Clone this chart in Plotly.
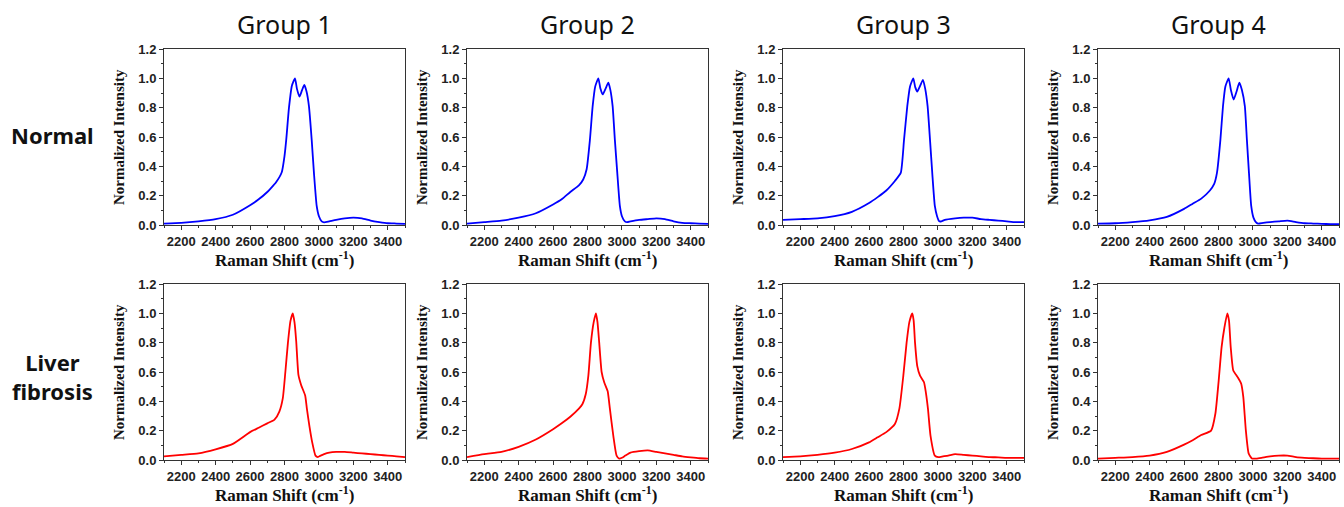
import plotly.graph_objects as go

W, H = 1344, 507

group_titles = ["Group 1", "Group 2", "Group 3", "Group 4"]
row_titles = ["Normal", "Liver<br>fibrosis"]
x_tick_vals = [2200, 2400, 2600, 2800, 3000, 3200, 3400]
y_tick_vals = [0.0, 0.2, 0.4, 0.6, 0.8, 1.0, 1.2]

# ---- Normal (blue) spectra ----
normal_g1_x = [2100, 2200, 2300, 2400, 2500, 2600, 2650, 2700, 2720, 2750, 2784, 2800, 2810, 2826, 2843, 2861,
               2872, 2887, 2902, 2915, 2928, 2942, 2958, 2971, 2987, 3000, 3016, 3030, 3060, 3100, 3150, 3200,
               3250, 3300, 3350, 3400, 3450, 3500]
normal_g1_y = [0.01, 0.015, 0.025, 0.04, 0.07, 0.135, 0.175, 0.225, 0.25, 0.29, 0.36, 0.47, 0.58, 0.80, 0.95, 1.0,
               0.93, 0.875, 0.92, 0.955, 0.91, 0.81, 0.58, 0.355, 0.13, 0.06, 0.025, 0.018, 0.025, 0.035, 0.045, 0.05,
               0.045, 0.03, 0.02, 0.012, 0.01, 0.008]

normal_g2_x = [2100, 2200, 2300, 2400, 2500, 2600, 2650, 2700, 2750, 2775, 2795, 2814, 2830, 2845, 2863,
               2875, 2888, 2905, 2921, 2933, 2946, 2959, 2973, 2988, 3000, 3017, 3030, 3050, 3100, 3150, 3200,
               3250, 3300, 3350, 3400, 3450, 3500]
normal_g2_y = [0.01, 0.02, 0.03, 0.05, 0.08, 0.14, 0.175, 0.225, 0.27, 0.31, 0.38, 0.58, 0.81, 0.945, 1.0,
               0.93, 0.89, 0.93, 0.97, 0.92, 0.81, 0.58, 0.355, 0.13, 0.06, 0.025, 0.02, 0.025, 0.035, 0.04, 0.045,
               0.04, 0.025, 0.015, 0.012, 0.01, 0.008]

normal_g3_x = [2100, 2200, 2300, 2400, 2500, 2600, 2650, 2700, 2750, 2784, 2803, 2822, 2838, 2857,
               2868, 2880, 2897, 2913, 2926, 2940, 2954, 2967, 2982, 2995, 3008, 3020, 3040, 3100, 3150, 3200,
               3250, 3300, 3350, 3400, 3450, 3500]
normal_g3_y = [0.035, 0.04, 0.045, 0.06, 0.09, 0.15, 0.19, 0.235, 0.3, 0.355, 0.58, 0.81, 0.945, 1.0,
               0.94, 0.91, 0.95, 0.99, 0.93, 0.81, 0.58, 0.355, 0.13, 0.06, 0.025, 0.025, 0.035, 0.045, 0.05, 0.05,
               0.04, 0.035, 0.03, 0.025, 0.02, 0.02]

normal_g4_x = [2100, 2200, 2300, 2400, 2500, 2600, 2650, 2700, 2750, 2775, 2791, 2811, 2826, 2840, 2859,
               2872, 2888, 2905, 2921, 2936, 2953, 2965, 2977, 2990, 3003, 3017, 3030, 3060, 3100, 3150, 3200,
               3250, 3300, 3350, 3400, 3450, 3500]
normal_g4_y = [0.01, 0.012, 0.02, 0.032, 0.055, 0.11, 0.145, 0.18, 0.235, 0.28, 0.355, 0.58, 0.81, 0.945, 1.0,
               0.92, 0.855, 0.91, 0.97, 0.92, 0.81, 0.58, 0.355, 0.13, 0.05, 0.02, 0.01, 0.015, 0.02, 0.025, 0.03,
               0.02, 0.012, 0.01, 0.008, 0.006, 0.005]

# ---- Liver fibrosis (red) spectra ----
fib_g1_x = [2100, 2200, 2300, 2400, 2500, 2600, 2650, 2700, 2742, 2770, 2790, 2805, 2820, 2835, 2848,
            2858, 2868, 2881, 2897, 2920, 2930, 2945, 2961, 2980, 2994, 3010, 3030, 3060, 3100, 3150, 3200,
            3250, 3300, 3350, 3400, 3450, 3500]
fib_g1_y = [0.025, 0.035, 0.045, 0.073, 0.11, 0.19, 0.22, 0.25, 0.275, 0.33, 0.42, 0.6, 0.8, 0.95, 1.0,
            0.94, 0.81, 0.58, 0.51, 0.44, 0.35, 0.23, 0.12, 0.03, 0.02, 0.03, 0.04, 0.05, 0.055, 0.055, 0.05,
            0.045, 0.04, 0.035, 0.03, 0.025, 0.02]

fib_g2_x = [2100, 2200, 2300, 2400, 2500, 2600, 2650, 2700, 2750, 2770, 2790, 2805, 2820, 2836, 2849,
            2858, 2868, 2882, 2897, 2917, 2930, 2950, 2969, 2984, 3000, 3020, 3050, 3100, 3150, 3200,
            3250, 3300, 3350, 3400, 3450, 3500]
fib_g2_y = [0.02, 0.04, 0.055, 0.09, 0.14, 0.21, 0.25, 0.295, 0.35, 0.38, 0.45, 0.575, 0.8, 0.94, 1.0,
            0.94, 0.8, 0.6, 0.53, 0.47, 0.35, 0.165, 0.03, 0.01, 0.015, 0.03, 0.05, 0.06, 0.065, 0.055,
            0.045, 0.035, 0.025, 0.018, 0.012, 0.01]

fib_g3_x = [2100, 2200, 2300, 2400, 2500, 2600, 2650, 2700, 2750, 2776, 2799, 2818, 2834, 2851,
            2859, 2867, 2880, 2896, 2919, 2930, 2942, 2957, 2982, 3002, 3030, 3060, 3100, 3150, 3200,
            3250, 3300, 3350, 3400, 3450, 3500]
fib_g3_y = [0.02, 0.025, 0.035, 0.05, 0.075, 0.12, 0.155, 0.19, 0.245, 0.35, 0.575, 0.8, 0.94, 1.0,
            0.95, 0.8, 0.64, 0.575, 0.53, 0.46, 0.35, 0.165, 0.03, 0.02, 0.025, 0.03, 0.04, 0.035, 0.03,
            0.025, 0.02, 0.018, 0.015, 0.015, 0.015]

fib_g4_x = [2100, 2200, 2300, 2400, 2500, 2600, 2650, 2700, 2757, 2782, 2801, 2818, 2834, 2851,
            2861, 2871, 2886, 2911, 2932, 2944, 2959, 2975, 2994, 3020, 3050, 3100, 3150, 3200,
            3250, 3300, 3350, 3400, 3450, 3500]
fib_g4_y = [0.01, 0.015, 0.02, 0.03, 0.055, 0.105, 0.135, 0.17, 0.2, 0.317, 0.54, 0.77, 0.9, 1.0,
            0.95, 0.77, 0.61, 0.565, 0.52, 0.43, 0.2, 0.045, 0.01, 0.01, 0.015, 0.025, 0.03, 0.03,
            0.02, 0.015, 0.012, 0.01, 0.01, 0.01]

normal_series = [(normal_g1_x, normal_g1_y), (normal_g2_x, normal_g2_y),
                 (normal_g3_x, normal_g3_y), (normal_g4_x, normal_g4_y)]
fibrosis_series = [(fib_g1_x, fib_g1_y), (fib_g2_x, fib_g2_y),
                   (fib_g3_x, fib_g3_y), (fib_g4_x, fib_g4_y)]

# ---- layout geometry (pixels) ----
col_left = [164, 467, 783, 1098]
panel_w = 241
row_top = [49, 284]
panel_h = 176


def px_x(p):
    return p / W


def px_y(p):
    return 1 - p / H


AX_COLOR = "#333333"
tick_font = dict(family="Liberation Sans, Arial", size=13, color="#222222", weight="bold")
serif_font = "Liberation Serif, Times New Roman"

fig = go.Figure()
layout = dict(
    width=W, height=H,
    margin=dict(l=0, r=0, t=0, b=0, autoexpand=False),
    paper_bgcolor="white", plot_bgcolor="white",
    showlegend=False,
    annotations=[],
)

for r, (series, color) in enumerate([(normal_series, "#0000FF"), (fibrosis_series, "#FF0000")]):
    for c in range(4):
        k = r * 4 + c + 1
        xs, ys = series[c]
        fig.add_trace(go.Scatter(
            x=xs, y=ys, mode="lines",
            line=dict(color=color, width=1.8, shape="spline", smoothing=0.5),
            xaxis=f"x{k}", yaxis=f"y{k}", hoverinfo="skip",
        ))
        ytop = row_top[r]
        ybot = row_top[r] + panel_h
        layout[f"xaxis{k}"] = dict(
            domain=[px_x(col_left[c]), px_x(col_left[c] + panel_w)], anchor=f"y{k}", range=[2100, 3500],
            tickmode="array", tickvals=x_tick_vals,
            ticks="outside", ticklen=4, tickwidth=1, tickcolor=AX_COLOR,
            minor=dict(dtick=100, tick0=2100, ticks="outside", ticklen=2, tickcolor=AX_COLOR),
            showline=True, linecolor=AX_COLOR, linewidth=1, mirror=True,
            showgrid=False, zeroline=False, tickfont=tick_font,
        )
        layout[f"yaxis{k}"] = dict(
            domain=[px_y(ybot), px_y(ytop)], anchor=f"x{k}", range=[0, 1.2],
            tickmode="array", tickvals=y_tick_vals, tickformat=".1f",
            ticks="outside", ticklen=4, tickwidth=1, tickcolor=AX_COLOR,
            minor=dict(dtick=0.1, tick0=0, ticks="outside", ticklen=2, tickcolor=AX_COLOR),
            showline=True, linecolor=AX_COLOR, linewidth=1, mirror=True,
            showgrid=False, zeroline=False, tickfont=tick_font,
        )
        # y-axis title
        layout["annotations"].append(dict(
            text="Normalized Intensity", textangle=-90, showarrow=False,
            xref="paper", yref="paper",
            x=px_x(col_left[c] - 45), y=px_y(ytop + panel_h / 2),
            xanchor="center", yanchor="middle",
            font=dict(family=serif_font, size=15, color="#111111", weight="bold"),
        ))
        # x-axis title
        layout["annotations"].append(dict(
            text="Raman Shift (cm<sup>-1</sup>)", showarrow=False,
            xref="paper", yref="paper",
            x=px_x(col_left[c] + panel_w / 2), y=px_y(ybot + 34),
            xanchor="center", yanchor="middle",
            font=dict(family=serif_font, size=17, color="#111111", weight="bold"),
        ))

for c, t in enumerate(group_titles):
    layout["annotations"].append(dict(
        text=t, showarrow=False, xref="paper", yref="paper",
        x=px_x(col_left[c] + panel_w / 2), y=px_y(24),
        xanchor="center", yanchor="middle",
        font=dict(family="Noto Sans, Noto Sans CJK KR", size=25, color="#111111"),
    ))

row_label_y = [135, 376]
for r, t in enumerate(row_titles):
    layout["annotations"].append(dict(
        text=t, showarrow=False, xref="paper", yref="paper",
        x=px_x(52), y=px_y(row_label_y[r]),
        xanchor="center", yanchor="middle", align="center",
        font=dict(family="Noto Sans, Noto Sans CJK KR", size=22, color="#111111", weight="bold"),
    ))

fig.update_layout(**layout)
# remove the page's default body margin so the 1344x507 figure fills the window exactly
fig.write_html(
    "out.html",
    config={"displayModeBar": False},
    post_script="document.body.style.margin='0';document.body.style.overflow='hidden';",
)
